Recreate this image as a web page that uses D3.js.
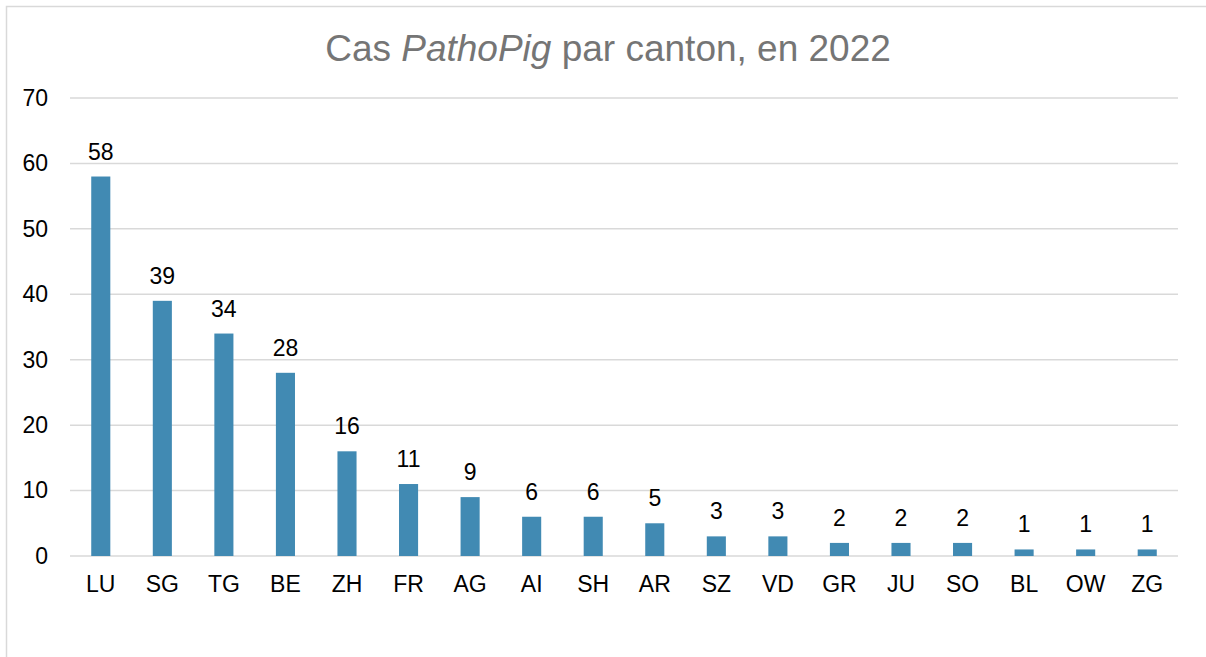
<!DOCTYPE html>
<html>
<head>
<meta charset="utf-8">
<script src="https://cdn.jsdelivr.net/npm/d3@7"></script>
<style>
  body { margin: 0; background: #fff; }
  text { font-family: "Liberation Sans", Arial, sans-serif; }
</style>
</head>
<body>
<div id="chart"></div>
<script>
const cantons = ['LU', 'SG', 'TG', 'BE', 'ZH', 'FR', 'AG', 'AI', 'SH', 'AR', 'SZ', 'VD', 'GR', 'JU', 'SO', 'BL', 'OW', 'ZG'];
const cases = [58, 39, 34, 28, 16, 11, 9, 6, 6, 5, 3, 3, 2, 2, 2, 1, 1, 1];
const yTicks = [0, 10, 20, 30, 40, 50, 60, 70];

const svgWidth = 1206;
const svgHeight = 657;
const margin = { top: 98, right: 28, bottom: 101, left: 70 };
const width = svgWidth - margin.left - margin.right;
const height = svgHeight - margin.top - margin.bottom;
const fontSize = '23px';

const svg = d3.select('#chart')
    .append('svg')
    .attr('width', svgWidth)
    .attr('height', svgHeight);

// chart frame
svg.append('rect')
    .attr('x', 6.5)
    .attr('y', 6.5)
    .attr('width', svgWidth + 10)
    .attr('height', svgHeight + 10)
    .attr('fill', 'none')
    .attr('stroke', '#d9d9d9')
    .attr('stroke-width', 1.5);

svg.append('text')
    .attr('x', 608)
    .attr('y', 61)
    .attr('text-anchor', 'middle')
    .attr('fill', '#757575')
    .style('font-size', '37px')
    .call(t => {
        t.append('tspan').text('Cas ');
        t.append('tspan').style('font-style', 'italic').text('PathoPig');
        t.append('tspan').text(' par canton, en 2022');
    });

const bounds = svg.append('g')
    .attr('transform', `translate(${margin.left}, ${margin.top})`);

const xScale = d3.scaleBand()
    .domain(cantons)
    .range([0, width])
    .paddingInner(0.69)
    .paddingOuter(0.345);

const yScale = d3.scaleLinear()
    .domain([0, 70])
    .range([height, 0]);

// gridlines
bounds.append('g')
    .selectAll('line')
    .data(yTicks)
    .join('line')
    .attr('x1', 0)
    .attr('x2', width)
    .attr('y1', d => yScale(d))
    .attr('y2', d => yScale(d))
    .attr('stroke', '#d9d9d9')
    .attr('stroke-width', 1.5);

const yAxisGroup = bounds.append('g')
    .call(d3.axisLeft(yScale).tickValues(yTicks).tickSize(0).tickPadding(22));
yAxisGroup.select('.domain').remove();
yAxisGroup.selectAll('text')
    .attr('fill', '#000')
    .style('font-size', fontSize)
    .style('font-family', '"Liberation Sans", Arial, sans-serif');

const xAxisGroup = bounds.append('g')
    .attr('transform', `translate(0, ${height})`)
    .call(d3.axisBottom(xScale).tickSize(0).tickPadding(20));
xAxisGroup.select('.domain').remove();
xAxisGroup.selectAll('text')
    .attr('fill', '#000')
    .style('font-size', fontSize)
    .style('font-family', '"Liberation Sans", Arial, sans-serif');

bounds.selectAll('rect.bar')
    .data(cantons)
    .join('rect')
    .attr('class', 'bar')
    .attr('x', d => xScale(d))
    .attr('y', (d, i) => yScale(cases[i]))
    .attr('width', xScale.bandwidth())
    .attr('height', (d, i) => height - yScale(cases[i]))
    .attr('fill', '#418ab3');

bounds.selectAll('text.value')
    .data(cantons)
    .join('text')
    .attr('class', 'value')
    .attr('x', d => xScale(d) + xScale.bandwidth() / 2)
    .attr('y', (d, i) => yScale(cases[i]) - 17)
    .attr('text-anchor', 'middle')
    .attr('fill', '#000')
    .style('font-size', fontSize)
    .text((d, i) => cases[i]);
</script>
</body>
</html>
